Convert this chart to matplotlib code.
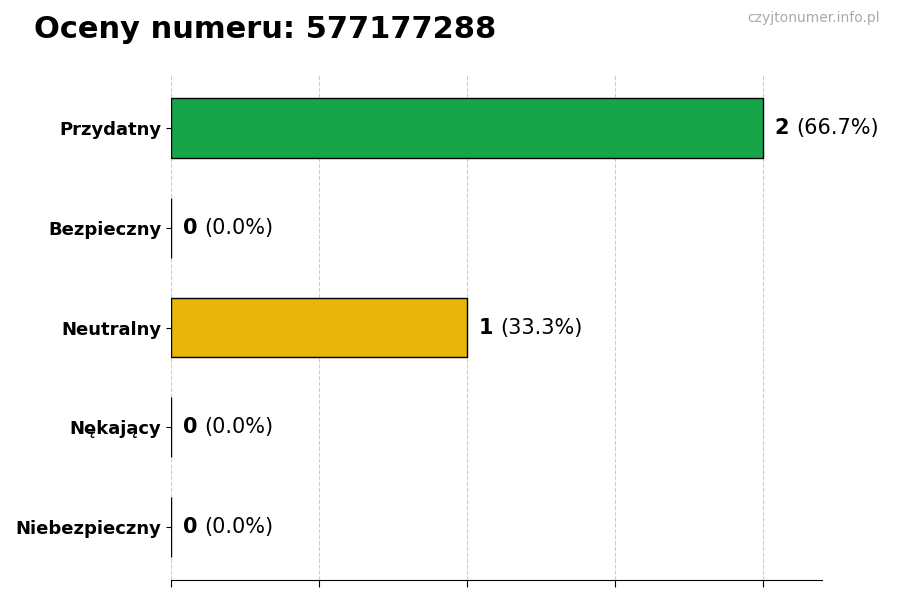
import matplotlib
matplotlib.use("Agg")
import matplotlib.pyplot as plt
from matplotlib.transforms import offset_copy

categories = ["Przydatny", "Bezpieczny", "Neutralny", "Nękający", "Niebezpieczny"]
values = [2, 0, 1, 0, 0]
colors = ["#18a54a", "#2e8bd6", "#e8b50a", "#e8762d", "#d63031"]
title = "Oceny numeru: 577177288"
watermark = "czyjtonumer.info.pl"

total = sum(values)
fig = plt.figure(figsize=(9, 6), dpi=100)
ax = fig.add_axes([0.19, 0.0333, 0.723, 0.8417])

ypos = list(range(len(categories)))[::-1]
ax.barh(ypos, values, height=0.6, color=colors, edgecolor="black", linewidth=1, zorder=3)
ax.set_yticks(ypos)
ax.set_yticklabels(categories, fontsize=13, fontweight="bold")
ax.set_xlim(0, 2.2)
ax.set_xticks([0, 0.5, 1, 1.5, 2])
ax.set_xticklabels([])
ax.tick_params(axis="x", length=5)
ax.grid(axis="x", linestyle="--", color="#cccccc", linewidth=0.8, zorder=0)
for s in ["top", "right", "left"]:
    ax.spines[s].set_visible(False)

fig.canvas.draw()
renderer = fig.canvas.get_renderer()
for y, v in zip(ypos, values):
    pct = 100.0 * v / total if total else 0
    t1 = ax.text(v, y, str(v), fontsize=15, fontweight="bold", va="center", ha="left",
                 transform=offset_copy(ax.transData, fig=fig, x=12, y=0, units="dots"))
    bb = t1.get_window_extent(renderer=renderer)
    w = bb.width
    ax.text(v, y, f"({pct:.1f}%)", fontsize=15, va="center", ha="left",
            transform=offset_copy(ax.transData, fig=fig, x=12 + w + 7, y=0, units="dots"))

fig.text(0.038, 0.95, title, fontsize=22, fontweight="bold", ha="left", va="center")
fig.text(0.978, 0.97, watermark, fontsize=10, color="#aaaaaa", ha="right", va="center")

fig.savefig("out.png", dpi=100)
